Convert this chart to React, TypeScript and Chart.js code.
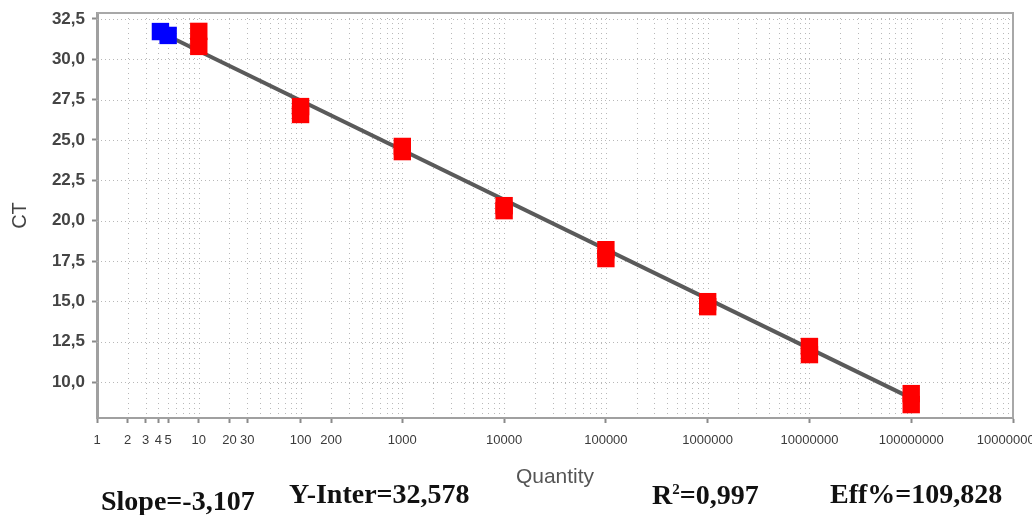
import React, { useEffect, useRef } from "react";
import { Chart, registerables } from "chart.js";

Chart.register(...registerables);

// Standards (two replicate Ct readings per quantity)
const STD_QTY = [10, 100, 1000, 10000, 100000, 1000000, 10000000, 100000000];
const STD_CT_A = [31.73, 27.07, 24.6, 20.93, 18.2, 14.98, 12.2, 9.28];
const STD_CT_B = [30.8, 26.58, 24.28, 20.62, 17.65, 14.67, 11.7, 8.6];

// Unknowns
const UNK_QTY = [4.2, 5.0];
const UNK_CT = [31.72, 31.48];

// Regression line end points
const LINE_QTY = [4.2, 100000000];
const LINE_CT = [31.68, 9.0];

const Y_TICKS = [10, 12.5, 15, 17.5, 20, 22.5, 25, 27.5, 30, 32.5];
const X_LABELS = ["1", "2", "3", "4", "5", "10", "20", "30", "100", "200", "1000", "10000", "100000", "1000000", "10000000", "100000000", "1000000000"];
const X_LABEL_VALUES = [1, 2, 3, 4, 5, 10, 20, 30, 100, 200, 1000, 10000, 100000, 1000000, 10000000, 100000000, 1000000000];

const STATS = ["Slope=-3,107", "Y-Inter=32,578", "R", "2", "=0,997", "Eff%=109,828"];

function minorGrid(): number[] {
  const out: number[] = [];
  for (let k = 0; k < 9; k++) {
    for (let d = 1; d <= 9; d++) out.push(d * Math.pow(10, k));
  }
  out.push(1e9);
  return out;
}

function labelIndex(v: number): number {
  return X_LABEL_VALUES.findIndex((l) => Math.abs(l - v) / l < 1e-6);
}

const frameAndStats = {
  id: "frameAndStats",
  beforeDatasetsDraw(chart: any) {
    const { ctx, chartArea, scales } = chart;
    ctx.save();
    // dotted grid
    ctx.strokeStyle = "#b8b8b8";
    ctx.lineWidth = 1;
    ctx.setLineDash([1, 4]);
    ctx.beginPath();
    for (const t of scales.x.ticks) {
      const px = Math.round(scales.x.getPixelForValue(t.value)) + 0.5;
      if (px <= chartArea.left + 2 || px >= chartArea.right - 2) continue;
      ctx.moveTo(px, chartArea.top);
      ctx.lineTo(px, chartArea.bottom);
    }
    ctx.stroke();
    ctx.setLineDash([1, 3]);
    ctx.beginPath();
    for (const t of scales.y.ticks) {
      const py = Math.round(scales.y.getPixelForValue(t.value)) + 0.5;
      ctx.moveTo(chartArea.left, py);
      ctx.lineTo(chartArea.right, py);
    }
    ctx.stroke();
    ctx.setLineDash([]);
    // top/right frame
    ctx.strokeStyle = "#a8a8a8";
    ctx.lineWidth = 2;
    ctx.beginPath();
    ctx.moveTo(chartArea.left, chartArea.top);
    ctx.lineTo(chartArea.right, chartArea.top);
    ctx.lineTo(chartArea.right, chartArea.bottom);
    ctx.stroke();
    ctx.restore();
  },
  afterDraw(chart: any) {
    const { ctx } = chart;
    ctx.save();
    ctx.fillStyle = "#111";
    ctx.textBaseline = "alphabetic";
    ctx.textAlign = "left";
    const big = 'bold 28px "Liberation Serif"';
    ctx.font = big;
    ctx.fillText(STATS[0], 101, 510);
    ctx.fillText(STATS[1], 289, 503);
    // R²
    let x = 652;
    ctx.fillText(STATS[2], x, 504);
    x += ctx.measureText(STATS[2]).width;
    ctx.font = 'bold 15px "Liberation Serif"';
    ctx.fillText(STATS[3], x, 494);
    x += ctx.measureText(STATS[3]).width;
    ctx.font = big;
    ctx.fillText(STATS[4], x, 504);
    ctx.fillText(STATS[5], 830, 503);
    ctx.restore();
  },
};

export default function App() {
  const ref = useRef<HTMLCanvasElement | null>(null);

  useEffect(() => {
    document.body.style.margin = "0";
    const canvas = ref.current;
    if (!canvas) return;

    const stdPoints = [
      ...STD_QTY.map((q, i) => ({ x: q, y: STD_CT_A[i] })),
      ...STD_QTY.map((q, i) => ({ x: q, y: STD_CT_B[i] })),
    ];
    const unkPoints = UNK_QTY.map((q, i) => ({ x: q, y: UNK_CT[i] }));
    const linePoints = LINE_QTY.map((q, i) => ({ x: q, y: LINE_CT[i] }));

    const chart = new Chart(canvas, {
      type: "scatter",
      data: {
        datasets: [
          {
            label: "Standards",
            data: stdPoints,
            pointStyle: "rect",
            pointRadius: 12.3,
            backgroundColor: "#ff0000",
            borderColor: "#ff0000",
            borderWidth: 0,
            order: 1,
          },
          {
            label: "Unknowns",
            data: unkPoints,
            pointStyle: "rect",
            pointRadius: 12.3,
            backgroundColor: "#0000ff",
            borderColor: "#0000ff",
            borderWidth: 0,
            order: 2,
          },
          {
            label: "Fit",
            type: "line",
            data: linePoints,
            showLine: true,
            borderColor: "#5a5a5a",
            borderWidth: 4,
            pointRadius: 0,
            fill: false,
            order: 3,
          } as any,
        ],
      },
      options: {
        responsive: false,
        animation: false,
        layout: { padding: { top: 13, right: 19, left: 0, bottom: 0 } },
        plugins: {
          legend: { display: false },
          tooltip: { enabled: false },
        },
        scales: {
          x: {
            type: "logarithmic",
            min: 1,
            max: 1e9,
            afterBuildTicks: (scale: any) => {
              scale.ticks = minorGrid().map((value) => ({ value }));
            },
            afterFit: (scale: any) => {
              scale.height = 97;
              scale.paddingLeft = 0;
              scale.paddingRight = 0;
            },
            ticks: {
              autoSkip: false,
              maxRotation: 0,
              minRotation: 0,
              padding: 10,
              color: "#3a3a3a",
              font: { family: "Liberation Sans", size: 13 },
              callback: (value: any) => {
                const i = labelIndex(Number(value));
                return i >= 0 ? X_LABELS[i] : "";
              },
            },
            grid: {
              drawOnChartArea: false,
              drawTicks: true,
              tickLength: 5,
              tickWidth: 2,
              tickColor: (c: any) => (c.tick && labelIndex(c.tick.value) >= 0 ? "#8a8a8a" : "rgba(0,0,0,0)"),
            } as any,
            border: { display: true, color: "#a0a0a0", width: 2 },
            title: {
              display: true,
              text: "Quantity",
              color: "#555",
              font: { family: "Liberation Sans", size: 21 },
              padding: { top: 0, bottom: 25 },
            },
          },
          y: {
            type: "linear",
            min: 7.77,
            max: 32.87,
            afterBuildTicks: (scale: any) => {
              scale.ticks = Y_TICKS.map((value) => ({ value }));
            },
            afterFit: (scale: any) => {
              scale.width = 97;
              scale.paddingTop = 0;
              scale.paddingBottom = 0;
            },
            ticks: {
              padding: 7,
              color: "#444",
              font: { family: "Liberation Sans", size: 17, weight: "bold" },
              callback: (value: any) => Number(value).toFixed(1).replace(".", ","),
            },
            grid: {
              drawOnChartArea: false,
              drawTicks: true,
              tickLength: 5,
              tickWidth: 2,
              tickColor: "#8a8a8a",
            } as any,
            border: { display: true, color: "#a0a0a0", width: 3 },
            title: {
              display: true,
              text: "CT",
              color: "#444",
              font: { family: "Liberation Sans", size: 20 },
              padding: { top: 8, bottom: 0 },
            },
          },
        },
      },
      plugins: [frameAndStats],
    });

    return () => chart.destroy();
  }, []);

  return (
    <div style={{ width: 1032, height: 515, position: "relative", background: "#fff" }}>
      <canvas ref={ref} width={1032} height={515} />
    </div>
  );
}
